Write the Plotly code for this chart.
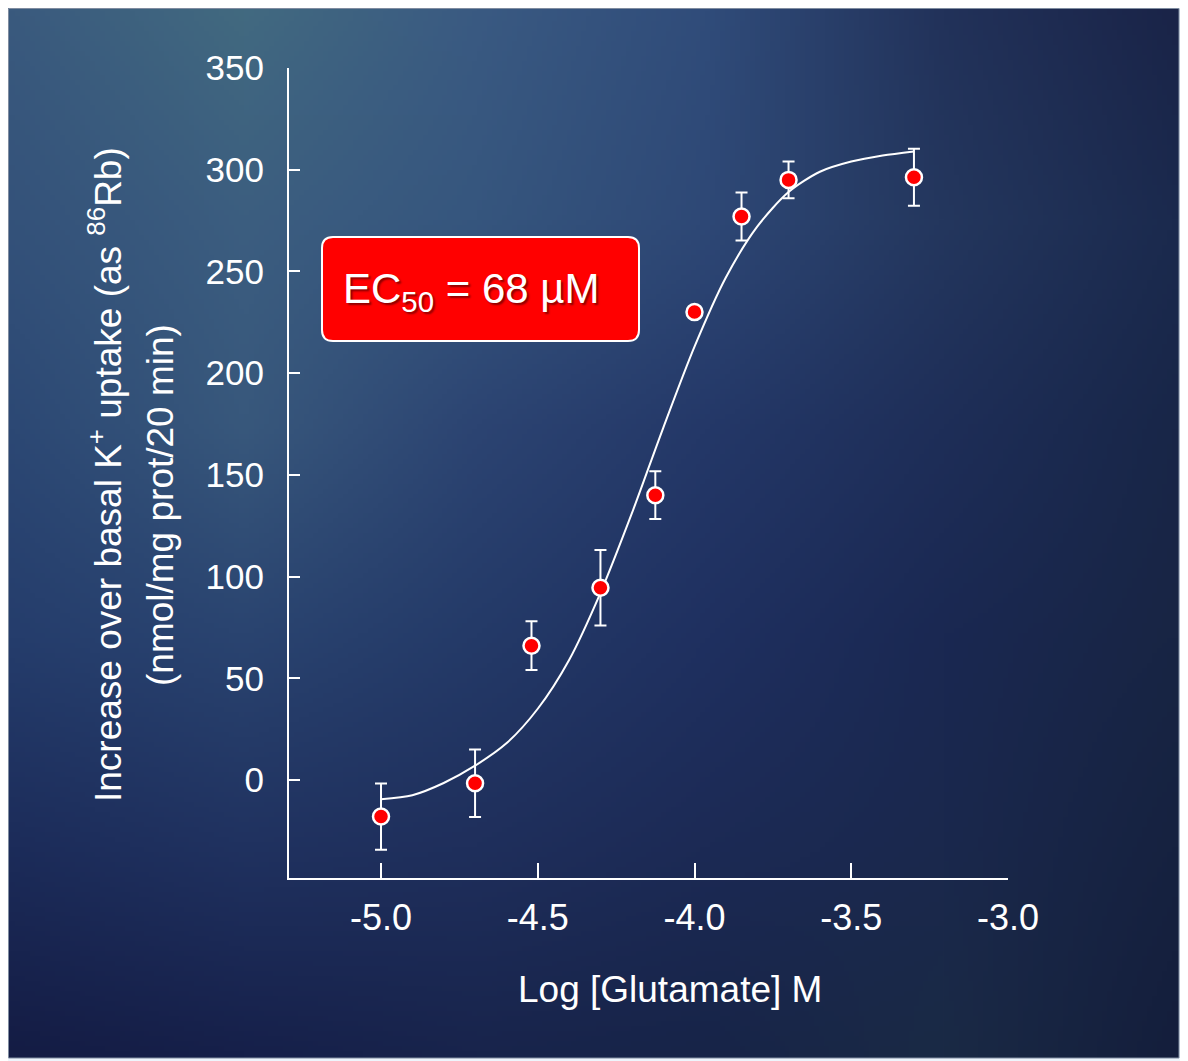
import base64, struct, zlib
import numpy as np
import plotly.graph_objects as go

# ---------------- data ----------------
log_glu = [-5.0, -4.7, -4.52, -4.3, -4.125, -4.0, -3.85, -3.7, -3.3]
uptake = [-18.0, -1.6, 66.0, 94.5, 140.0, 230.0, 277.0, 295.0, 296.3]
sem = [16.3, 16.6, 12.0, 18.6, 11.7, 2.0, 11.8, 9.0, 14.0]

curve_x = [-5.0, -4.9, -4.8, -4.7, -4.6, -4.5, -4.4, -4.3, -4.2, -4.1,
           -4.0, -3.9, -3.8, -3.7, -3.6, -3.5, -3.4, -3.3]
curve_y = [-9.5, -7.5, -1.5, 7.0, 18.0, 35.0, 59.0, 92.0, 131.0, 173.0,
           213.0, 247.0, 272.0, 289.0, 299.0, 304.0, 307.0, 309.0]

x_ticks = [-5.0, -4.5, -4.0, -3.5, -3.0]
x_ticktext = ["-5.0", "-4.5", "-4.0", "-3.5", "-3.0"]
y_ticks = [0, 50, 100, 150, 200, 250, 300, 350]
y_ticktext = ["0", "50", "100", "150", "200", "250", "300", "350"]

# ---------------- geometry helpers ----------------
# the page body has an 8px margin; the figure is sized so that it fills the window
OFF = 8
W, H = 1188 - OFF, 1061 - OFF
L, R, T, B = 289, 1008, 68, 878  # plot area in screen pixels


def px(xp):
    return (xp - L) / (R - L)


def py(yp):
    return (B - yp) / (B - T)


# ---------------- background image (soft blue gradient) ----------------
grid = np.array([
    [[0x3a, 0x5a, 0x7e], [0x42, 0x6a, 0x80], [0x3a, 0x5a, 0x82], [0x30, 0x4c, 0x7a], [0x22, 0x32, 0x5a], [0x1a, 0x24, 0x48]],
    [[0x34, 0x52, 0x7a], [0x3c, 0x5e, 0x80], [0x36, 0x56, 0x7e], [0x2e, 0x48, 0x76], [0x24, 0x37, 0x5e], [0x1b, 0x2a, 0x4e]],
    [[0x2c, 0x48, 0x74], [0x38, 0x58, 0x7c], [0x2c, 0x44, 0x72], [0x24, 0x38, 0x68], [0x1e, 0x2e, 0x58], [0x18, 0x26, 0x48]],
    [[0x25, 0x3d, 0x6c], [0x2a, 0x44, 0x70], [0x24, 0x3a, 0x68], [0x1f, 0x30, 0x60], [0x1a, 0x28, 0x52], [0x18, 0x25, 0x44]],
    [[0x1c, 0x2c, 0x5a], [0x20, 0x32, 0x60], [0x1f, 0x2f, 0x5c], [0x1c, 0x2a, 0x55], [0x1a, 0x28, 0x4d], [0x16, 0x22, 0x40]],
    [[0x14, 0x1c, 0x44], [0x16, 0x20, 0x4a], [0x18, 0x24, 0x4c], [0x17, 0x24, 0x48], [0x1a, 0x2a, 0x45], [0x14, 0x1e, 0x3c]],
], dtype=float)

IW, IH = 236, 211
gy = np.linspace(0, grid.shape[0] - 1, IH)
gx = np.linspace(0, grid.shape[1] - 1, IW)
y0 = np.clip(np.floor(gy).astype(int), 0, grid.shape[0] - 2)
x0 = np.clip(np.floor(gx).astype(int), 0, grid.shape[1] - 2)
fy = (gy - y0)[:, None, None]
fx = (gx - x0)[None, :, None]
c00 = grid[y0][:, x0]
c01 = grid[y0][:, x0 + 1]
c10 = grid[y0 + 1][:, x0]
c11 = grid[y0 + 1][:, x0 + 1]
img = (c00 * (1 - fx) * (1 - fy) + c01 * fx * (1 - fy) + c10 * (1 - fx) * fy + c11 * fx * fy)
img = np.clip(img, 0, 255).astype(np.uint8)


def to_png(arr):
    h, w, _ = arr.shape
    raw = b"".join(b"\x00" + arr[r].tobytes() for r in range(h))

    def chunk(tag, data):
        c = struct.pack(">I", len(data)) + tag + data
        return c + struct.pack(">I", zlib.crc32(tag + data) & 0xffffffff)
    return (b"\x89PNG\r\n\x1a\n" + chunk(b"IHDR", struct.pack(">IIBBBBB", w, h, 8, 2, 0, 0, 0))
            + chunk(b"IDAT", zlib.compress(raw, 9)) + chunk(b"IEND", b""))


bg_uri = "data:image/png;base64," + base64.b64encode(to_png(img)).decode()

FONT = "Liberation Sans, Arial, sans-serif"

fig = go.Figure()

fig.add_trace(go.Scatter(
    x=curve_x, y=curve_y, mode="lines",
    line=dict(color="white", width=2, shape="spline", smoothing=0.8),
    hoverinfo="skip", showlegend=False,
))

fig.add_trace(go.Scatter(
    x=log_glu, y=uptake, mode="markers",
    marker=dict(color="#ff0000", size=16, line=dict(color="white", width=2.5)),
    error_y=dict(type="data", array=sem, visible=True, color="white", thickness=2, width=6),
    showlegend=False,
))

# rounded red box
x1, x2, y1, y2, r = 322, 639, 237, 341, 11
pts = [
    ("M", x1 + r, y1), ("L", x2 - r, y1), ("Q", x2, y1, x2, y1 + r), ("L", x2, y2 - r),
    ("Q", x2, y2, x2 - r, y2), ("L", x1 + r, y2), ("Q", x1, y2, x1, y2 - r),
    ("L", x1, y1 + r), ("Q", x1, y1, x1 + r, y1),
]
path = ""
for p in pts:
    cmd = p[0]
    coords = p[1:]
    s = []
    for i in range(0, len(coords), 2):
        s.append(f"{px(coords[i]):.5f},{py(coords[i + 1]):.5f}")
    path += cmd + " " + " ".join(s) + " "
path += "Z"

shapes = [
    dict(type="rect", xref="paper", yref="paper", x0=px(8.5), x1=px(1179), y0=py(1058), y1=py(8.5),
         line=dict(color="#7f8ca0", width=1), fillcolor="rgba(0,0,0,0)", layer="above"),
    dict(type="rect", xref="paper", yref="paper", x0=px(1184), x1=px(1190), y0=py(1062), y1=py(0),
         line=dict(width=0), fillcolor="#2b4a7e", layer="below"),
    dict(type="path", xref="paper", yref="paper", path=path,
         fillcolor="#ff0000", line=dict(color="white", width=2), layer="above"),
]

annotations = [
    dict(xref="paper", yref="paper", x=px(341), y=py(291), xanchor="left", yanchor="middle",
         text="EC<sub>50</sub> = 68 µM", showarrow=False,
         font=dict(family=FONT, size=42, color="white", shadow="2px 2px 2px rgba(0,0,0,0.45)")),
    dict(xref="paper", yref="paper", x=px(105), y=py(475), xanchor="center", yanchor="middle",
         textangle=-90, showarrow=False,
         text="Increase over basal K<sup>+</sup> uptake (as <sup>86</sup>Rb)",
         font=dict(family=FONT, size=37, color="white")),
    dict(xref="paper", yref="paper", x=px(160), y=py(505), xanchor="center", yanchor="middle",
         textangle=-90, showarrow=False,
         text="(nmol/mg prot/20 min)",
         font=dict(family=FONT, size=37, color="white")),
    dict(xref="paper", yref="paper", x=px(670), y=py(990), xanchor="center", yanchor="middle",
         showarrow=False, text="Log [Glutamate] M",
         font=dict(family=FONT, size=37, color="white")),
]

fig.update_layout(
    width=W, height=H,
    margin=dict(l=L - OFF, r=W - (R - OFF), t=T - OFF, b=H - (B - OFF), pad=0),
    paper_bgcolor="#eef5fc",
    plot_bgcolor="rgba(0,0,0,0)",
    font=dict(family=FONT, size=35, color="white"),
    showlegend=False,
    shapes=shapes,
    annotations=annotations,
    images=[dict(source=bg_uri, xref="paper", yref="paper", x=px(8), y=py(8),
                 sizex=px(1179) - px(8), sizey=py(8) - py(1058), sizing="stretch",
                 xanchor="left", yanchor="top", layer="below")],
    xaxis=dict(range=[-5.2935, -3.0], tickvals=x_ticks, ticktext=x_ticktext,
               showgrid=False, zeroline=False, showline=True, linecolor="white", linewidth=2,
               ticks="inside", ticklen=15, tickwidth=2, tickcolor="white",
               tickfont=dict(family=FONT, size=36, color="white"), ticklabelstandoff=7),
    yaxis=dict(range=[-48.2, 350], tickvals=y_ticks, ticktext=y_ticktext,
               showgrid=False, zeroline=False, showline=True, linecolor="white", linewidth=2,
               ticks="inside", ticklen=11, tickwidth=2, tickcolor="white",
               tickfont=dict(family=FONT, size=35, color="white"), ticklabelstandoff=16),
)

fig.write_html("out.html")
